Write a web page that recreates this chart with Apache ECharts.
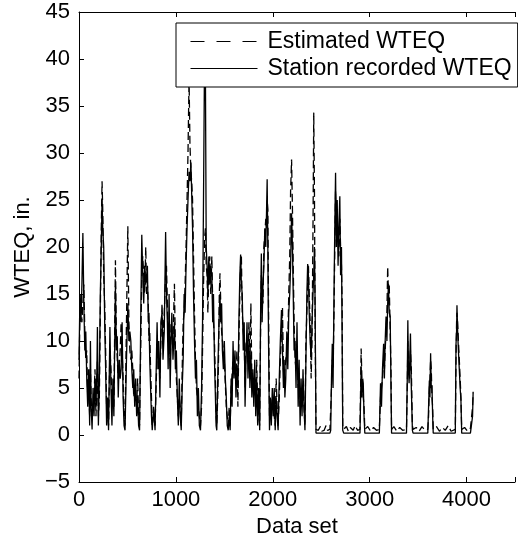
<!DOCTYPE html>
<html>
<head>
<meta charset="utf-8">
<script src="https://cdn.jsdelivr.net/npm/echarts@6/dist/echarts.min.js"></script>
<style>
  html, body { margin: 0; padding: 0; background: #fff; }
  #chart { width: 518px; height: 544px; }
</style>
</head>
<body>
<div id="chart"></div>
<script>
// data set index (x) for the busy first part, 0..2446
var xDense = [
  0, 10, 20, 30, 40, 50, 60, 70, 80, 90,
  100, 110, 118, 125, 135, 145, 155, 165, 175, 185,
  190, 200, 210, 220, 230, 238, 245, 255, 265, 275,
  285, 295, 305, 319, 330, 340, 350, 360, 376, 385,
  395, 405, 415, 425, 435, 445, 455, 465, 475, 490,
  504, 515, 525, 535, 545, 555, 565, 575, 585, 595,
  605, 615, 625, 638, 648, 658, 668, 678, 689, 698,
  706, 715, 722, 730, 739, 748, 756, 770, 785, 806,
  815, 823, 835, 845, 857, 867, 880, 894, 903, 912,
  920, 930, 941, 950, 958, 970, 985, 995, 1005, 1015,
  1025, 1035, 1045, 1055, 1065, 1075, 1085, 1095, 1105, 1115,
  1125, 1136, 1145, 1155, 1163, 1172, 1182, 1192, 1202, 1212,
  1222, 1232, 1242, 1254, 1265, 1275, 1285, 1297, 1305, 1313,
  1322, 1330, 1340, 1350, 1360, 1371, 1380, 1388, 1398, 1408,
  1415, 1422, 1432, 1440, 1448, 1455, 1463, 1472, 1480, 1490,
  1500, 1510, 1520, 1530, 1540, 1550, 1560, 1570, 1580, 1590,
  1600, 1610, 1620, 1630, 1640, 1650, 1660, 1668, 1676, 1685,
  1695, 1705, 1714, 1724, 1734, 1744, 1754, 1764, 1774, 1784,
  1794, 1804, 1814, 1824, 1834, 1844, 1854, 1865, 1875, 1882,
  1890, 1899, 1908, 1918, 1928, 1936, 1942, 1949, 1956, 1966,
  1975, 1985, 1995, 2005, 2015, 2025, 2035, 2045, 2055, 2067,
  2078, 2090, 2100, 2110, 2117, 2125, 2134, 2145, 2155, 2165,
  2175, 2184, 2194, 2203, 2211, 2220, 2230, 2240, 2250, 2262,
  2272, 2282, 2292, 2302, 2312, 2322, 2332, 2342, 2352, 2360,
  2368, 2376, 2386, 2396, 2405, 2415, 2423, 2430, 2437, 2446
];
var recDense = [
  8, 15, 12, 16, 21.5, 14, 9, 11, 6, 3,
  7, 1, 10, 3, 0.6, 5, 2, 6, 3, 7,
  11.5, 1, 6, 15, 20, 25, 22, 20, 12, 7,
  1, 4, 0.5, 11.5, 5, 1, 6, 2, 15.8, 9,
  10.5, 4, 8, 6, 7, 12, 4, 1, 0.5, 8,
  14, 10, 11, 10, 7, 5, 7, 3, 6, 2,
  4, 1, 0.5, 13, 21.3, 17, 14, 18, 16, 17,
  18, 12, 13, 8, 5, 2, 0.5, 3, 0.5, 12,
  7, 10, 4, 12, 13, 8, 11, 21.6, 15, 12,
  7, 15, 5, 10, 13, 8, 12, 7, 9, 4,
  1, 6, 2, 0.5, 5, 8, 15, 13, 18, 22,
  25, 28, 27, 29, 28.8, 22, 15, 10, 6, 8,
  2, 5, 1, 0.5, 5, 12, 25, 42, 38, 20,
  18, 15, 19, 16, 18, 17, 12, 15, 8, 4,
  1, 0.5, 6, 10, 13, 15, 12, 14, 9, 7,
  10, 6, 4, 1, 0.5, 2, 0.5, 6, 3, 10,
  6, 9, 4, 7, 5, 12, 17, 19.2, 16, 15,
  9, 12, 3, 8, 12, 6, 10, 5, 9, 4,
  7, 3, 8, 2, 6, 1, 5, 0.5, 14, 19.3,
  12, 16, 18, 22, 20, 24, 27.2, 20, 10, 0.5,
  4, 1, 5, 2, 5, 0.5, 4, 2, 0.5, 6,
  10, 13.3, 9, 5, 8, 4, 6, 11, 7, 13,
  15, 18, 23.6, 20, 15, 9, 10, 5, 12, 3,
  8, 1, 6, 2, 7, 3, 0.5, 8, 15, 18.2,
  17, 13, 10, 8, 12, 15, 17.2, 20, 14, 0.2
];
var estDense = [
  6, 13, 15, 12, 14, 16, 11, 8, 9, 4,
  5, 2, 7, 4, 1.5, 3, 4, 7, 2, 5,
  8, 2, 4, 13, 22, 27, 24, 17, 14, 9,
  3, 2, 1, 9, 7, 3, 4, 3, 18.6, 11,
  8, 6, 6, 9, 12, 9, 6, 2, 1, 12,
  22.2, 12, 9, 8, 9, 7, 4, 5, 4, 3,
  6, 2, 1, 10, 17, 19, 17, 15, 20, 15,
  16, 14, 10, 11, 7, 4, 1, 2, 1, 9,
  10, 8, 6, 10, 14, 10, 13, 17, 18, 14,
  10, 12, 7, 12, 11, 10, 16.1, 9, 6, 6,
  2, 4, 3, 1, 7, 12, 13, 16, 20, 25,
  30, 38, 31, 28, 27, 25, 19, 13, 8, 5,
  4, 3, 2, 1, 3, 9, 16, 21, 22, 18,
  17, 13, 17, 19, 15, 19, 14, 12, 10, 6,
  2, 1, 4, 8, 15, 17.2, 14, 11, 11, 9,
  8, 8, 3, 2, 1, 3, 1, 5, 5, 8,
  8, 7, 6, 9, 3, 10, 15, 18, 19, 13,
  11, 10, 5, 10, 9, 8, 12, 7, 14, 6,
  5, 4, 6, 4, 8, 3, 3, 1, 12, 17,
  15, 14, 20, 20, 23, 22, 25, 24, 14, 2,
  3, 2, 4, 3, 3, 1, 6, 3, 1, 4,
  8, 11, 13.6, 7, 6, 6, 8, 9, 10, 15,
  19, 26, 29.3, 24, 18, 12, 8, 7, 9, 5,
  6, 3, 4, 3, 5, 5, 1, 10, 13, 16,
  18, 15, 12, 6, 10, 22, 34.3, 26, 12, 0.6
];

// later part: mostly zero with isolated peaks
var xLate = [
  2470, 2490, 2505, 2530, 2550, 2565, 2590, 2598, 2606, 2614,
  2622, 2632, 2640, 2648, 2656, 2665, 2674, 2682, 2692, 2700,
  2709, 2716, 2722, 2732, 2760, 2780, 2800, 2830, 2850, 2875,
  2900, 2905, 2912, 2920, 2928, 2934, 2942, 2950, 2980, 3010,
  3040, 3070, 3100, 3112, 3122, 3132, 3144, 3152, 3160, 3169,
  3178, 3186, 3194, 3202, 3212, 3220, 3226, 3250, 3280, 3310,
  3340, 3380, 3388, 3394, 3400, 3407, 3414, 3421, 3430, 3441,
  3448, 3480, 3510, 3540, 3570, 3600, 3608, 3616, 3622, 3629,
  3636, 3643, 3650, 3656, 3690, 3720, 3750, 3780, 3810, 3840,
  3884, 3891, 3897, 3901, 3908, 3916, 3925, 3934, 3942, 3950,
  3980, 4010, 4040, 4055, 4062, 4068
];
var recLate = [
  0.2, 0.2, 0.2, 0.2, 0.2, 0.2, 0.2, 0.5, 6, 9.7,
  5, 15, 22, 27.9, 20, 25, 18, 22, 25.4, 17,
  20, 10, 0.5, 0.2, 0.2, 0.2, 0.2, 0.2, 0.2, 0.2,
  0.2, 3, 7.3, 4, 6, 5.5, 2, 0.2, 0.2, 0.2,
  0.2, 0.2, 0.2, 5.5, 3, 7, 9.7, 6, 10, 12.6,
  10, 14, 16.1, 13, 12.6, 5, 0.2, 0.2, 0.2, 0.2,
  0.2, 0.2, 6, 12.2, 7, 5.5, 8, 10.8, 5, 0.5,
  0.2, 0.2, 0.2, 0.2, 0.2, 0.2, 3, 5.8, 4, 8.7,
  5, 5.3, 2, 0.2, 0.2, 0.2, 0.2, 0.2, 0.2, 0.2,
  0.2, 9.6, 11, 13.8, 11, 9, 7, 5, 3.7, 0.2,
  0.2, 0.2, 0.2, 0.2, 2, 4.6
];
var estLate = [
  0.5, 0.9, 0.4, 0.5, 1.0, 0.5, 0.6, 0.8, 5, 8,
  7, 13, 20, 26, 23, 22, 21, 19, 23, 20,
  18, 14, 1, 0.6, 0.9, 0.4, 0.8, 0.5, 1.0, 0.5,
  0.6, 4, 9.2, 6, 5, 4, 3, 0.6, 0.9, 0.4,
  0.8, 0.5, 0.6, 4, 5, 6, 8, 7, 9, 11,
  13, 17.9, 15, 16, 11, 7, 0.6, 0.9, 0.4, 0.8,
  0.5, 0.6, 5, 10, 8, 7, 6, 9, 7, 1,
  0.6, 0.8, 0.4, 0.9, 0.5, 0.6, 2, 5, 6, 8,
  7, 4, 3, 0.6, 0.9, 0.4, 0.8, 0.5, 1.0, 0.4,
  0.6, 8, 12, 13, 12, 10, 8, 6, 4, 0.6,
  0.8, 0.4, 0.7, 0.5, 3, 4.5
];

var xTicks = [0, 1000, 2000, 3000, 4000];

var xSet = xDense.concat(xLate);
var recorded = recDense.concat(recLate);
var estimated = estDense.concat(estLate);

function pairs(xs, ys) {
  var out = [];
  for (var i = 0; i < xs.length; i++) out.push([xs[i], ys[i]]);
  return out;
}

var font = 'Liberation Sans, Arial, Helvetica, sans-serif';
var chart = echarts.init(document.getElementById('chart'));
chart.setOption({
  animation: false,
  backgroundColor: '#fff',
  textStyle: { fontFamily: font, color: '#000' },
  grid: { left: 79, top: 12, width: 446, height: 470 },
  legend: {
    orient: 'vertical',
    left: 176,
    top: 23,
    padding: [7, 6, 7, 14],
    itemGap: 4,
    itemWidth: 67,
    itemHeight: 14,
    backgroundColor: '#fff',
    borderColor: '#000',
    borderWidth: 1,
    itemStyle: { opacity: 0 },
    textStyle: { fontFamily: font, fontSize: 23, color: '#000', padding: [0, 0, 0, 5] },
    data: [
      { name: 'Estimated WTEQ', lineStyle: { type: [14, 12], width: 1 } },
      { name: 'Station recorded WTEQ', lineStyle: { width: 1 } }
    ]
  },
  xAxis: [{
    type: 'value',
    min: 0,
    max: 4500,
    interval: 1000,
    name: 'Data set',
    nameLocation: 'middle',
    nameGap: 34,
    nameTextStyle: { fontFamily: font, fontSize: 22, color: '#000' },
    axisLine: { show: true, onZero: false, lineStyle: { color: '#000', width: 1 } },
    axisTick: { inside: true, length: 5, lineStyle: { color: '#000' } },
    axisLabel: {
      fontFamily: font, fontSize: 22, color: '#000', margin: 7,
      formatter: function (v) { return xTicks.indexOf(v) >= 0 ? String(v) : ''; }
    },
    splitLine: { show: false }
  }, {
    type: 'value',
    position: 'top',
    min: 0,
    max: 4500,
    interval: 1000,
    axisLine: { show: true, onZero: false, lineStyle: { color: '#000', width: 1 } },
    axisTick: { inside: true, length: 5, lineStyle: { color: '#000' } },
    axisLabel: { show: false },
    splitLine: { show: false }
  }],
  yAxis: {
    type: 'value',
    min: -5,
    max: 45,
    interval: 5,
    name: 'WTEQ, in.',
    nameLocation: 'middle',
    nameGap: 45,
    nameTextStyle: { fontFamily: font, fontSize: 22, color: '#000' },
    axisLine: { show: true, onZero: false, lineStyle: { color: '#000', width: 1 } },
    axisTick: { inside: true, length: 5, lineStyle: { color: '#000' } },
    axisLabel: {
      fontFamily: font, fontSize: 22, color: '#000', margin: 9,
      formatter: function (v) { return v < 0 ? '\u2212' + Math.abs(v) : String(v); }
    },
    splitLine: { show: false }
  },
  series: [{
    name: 'Estimated WTEQ',
    type: 'line',
    symbol: 'none',
    data: pairs(xSet, estimated),
    lineStyle: { color: '#000', width: 1.3, type: [8, 4] },
    itemStyle: { color: '#000' }
  }, {
    name: 'Station recorded WTEQ',
    type: 'line',
    symbol: 'none',
    data: pairs(xSet, recorded),
    lineStyle: { color: '#000', width: 1.3 },
    itemStyle: { color: '#000' }
  }]
});
</script>
</body>
</html>
